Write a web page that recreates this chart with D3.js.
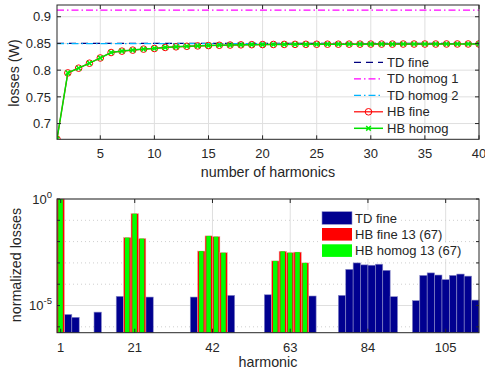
<!DOCTYPE html>
<html>
<head>
<meta charset="utf-8">
<script src="https://cdn.jsdelivr.net/npm/d3@7"></script>
<style>
  body { margin: 0; background: #fff; }
  text { font-family: "Liberation Sans", Arial, Helvetica, sans-serif; fill: #262626; }
</style>
</head>
<body>
<div id="chart"></div>
<script>
// ---- top panel data ----
var nHarmonics = [1,2,3,4,5,6,7,8,9,10,11,12,13,14,15,16,17,18,19,20,
                  21,22,23,24,25,26,27,28,29,30,31,32,33,34,35,36,37,38,39,40];
var hbFine = [0.6706,0.7948,0.8037,0.8130,0.8228,0.8330,0.8356,0.8375,0.8394,0.8406,
              0.8425,0.8437,0.8447,0.8454,0.8460,0.8466,0.8470,0.8474,0.8477,0.8479,
              0.8481,0.8482,0.8483,0.8484,0.8485,0.8486,0.8486,0.8487,0.8487,0.8488,
              0.8488,0.8488,0.8489,0.8489,0.8489,0.8489,0.8490,0.8490,0.8490,0.8490];
var hbHomog = [0.6706,0.7950,0.8038,0.8131,0.8229,0.8331,0.8357,0.8376,0.8394,0.8407,
               0.8425,0.8437,0.8447,0.8454,0.8460,0.8466,0.8470,0.8474,0.8477,0.8479,
               0.8481,0.8482,0.8483,0.8484,0.8485,0.8486,0.8486,0.8487,0.8487,0.8488,
               0.8488,0.8488,0.8489,0.8489,0.8489,0.8489,0.8490,0.8490,0.8490,0.8490];
var tdFine = 0.8503;
var tdHomog1 = 0.9125;
var tdHomog2 = 0.8496;
var topXTicks = [5,10,15,20,25,30,35,40];
var topYTicks = [0.7,0.75,0.8,0.85,0.9];

// ---- bottom panel data ----
var tdHarm = [3,5,11,17,25,37,47,57,69,77,79,81,83,85,87,89,91,97,99,101,103,105,107,109,111,113];
var tdLoss = [3.8e-6,2.8e-6,4.9e-6,2.7e-5,2.5e-5,2.5e-5,3.0e-5,3.2e-5,2.8e-5,3.0e-5,
              5.0e-4,1.0e-3,8.1e-4,7.8e-4,8.7e-4,4.5e-4,2.6e-5,1.7e-5,2.6e-4,3.4e-4,
              2.7e-4,1.65e-4,2.6e-4,3.0e-4,2.4e-4,1.8e-5];
var hbHarm = [1,19,21,23,39,41,43,45,59,61,63,65,67];
var hbFineLoss = [1,0.0154,0.204,0.0138,0.0036,0.0185,0.017,0.0030,0.00124,0.0035,0.0030,0.0032,0.0010];
var hbHomogLoss = [1,0.0154,0.204,0.0138,0.0036,0.0185,0.017,0.0030,0.00124,0.0035,0.0030,0.0032,0.0010];
var botXTicks = [1,21,42,63,84,105];
var botYDecades = [-6,-5,-4,-3,-2,-1,0];

var W = 485, H = 375;
var axisColor = "#262626", gridColor = "#dfdfdf";
var svg = d3.select("#chart").append("svg").attr("width", W).attr("height", H);

// ================= top panel =================
var L = 57, R = 479, T1 = 5, B1 = 139.3;
var x1 = d3.scaleLinear().domain([1,40]).range([L,R]);
var y1 = d3.scaleLinear().domain([0.6705,0.922]).range([B1,T1]);
var g1 = svg.append("g");

// grid
g1.selectAll(".gx").data(topXTicks).enter().append("line")
  .attr("x1", function(d){return x1(d);}).attr("x2", function(d){return x1(d);})
  .attr("y1", T1).attr("y2", B1).style("stroke", gridColor);
g1.selectAll(".gy").data(topYTicks).enter().append("line")
  .attr("x1", L).attr("x2", R)
  .attr("y1", function(d){return y1(d);}).attr("y2", function(d){return y1(d);})
  .style("stroke", gridColor);

var clip1 = svg.append("clipPath").attr("id","c1").append("rect")
  .attr("x", L).attr("y", T1).attr("width", R-L).attr("height", B1-T1);

var lines = g1.append("g").attr("clip-path","url(#c1)");
function hline(v, color, dash, w) {
  lines.append("line").attr("x1", L).attr("x2", R).attr("y1", y1(v)).attr("y2", y1(v))
    .style("stroke", color).style("stroke-width", w).style("stroke-dasharray", dash);
}
hline(tdFine, "#000080", "7,5", 1.2);
hline(tdHomog1, "#ff00ff", "7,3,1.5,3", 1.2);
hline(tdHomog2, "#00b4ff", "7,3,1.5,3", 1.2);

var line = d3.line().x(function(d,i){return x1(nHarmonics[i]);}).y(function(d){return y1(d);});
lines.append("path").datum(hbFine).attr("d", line)
  .style("fill","none").style("stroke","#ff0000").style("stroke-width",1.2);
lines.selectAll(".hbf").data(hbFine).enter().append("circle")
  .attr("cx", function(d,i){return x1(nHarmonics[i]);}).attr("cy", function(d){return y1(d);})
  .attr("r", 3.3).style("fill","none").style("stroke","#ff0000").style("stroke-width",1);
lines.append("path").datum(hbHomog).attr("d", line)
  .style("fill","none").style("stroke","#00e000").style("stroke-width",1.5);
function xMark(sel, cx, cy, s, color) {
  sel.append("path").attr("d", "M"+(cx-s)+","+(cy-s)+"L"+(cx+s)+","+(cy+s)+"M"+(cx-s)+","+(cy+s)+"L"+(cx+s)+","+(cy-s))
    .style("stroke", color).style("stroke-width", 1.5);
}
hbHomog.forEach(function(d,i){ xMark(lines, x1(nHarmonics[i]), y1(d), 2.3, "#00ee00"); });

// frame + ticks
g1.append("rect").attr("x", L).attr("y", T1).attr("width", R-L).attr("height", B1-T1)
  .style("fill","none").style("stroke", axisColor).style("stroke-width", 1);
topXTicks.forEach(function(t){
  g1.append("line").attr("x1", x1(t)).attr("x2", x1(t)).attr("y1", B1).attr("y2", B1-4).style("stroke", axisColor);
  g1.append("line").attr("x1", x1(t)).attr("x2", x1(t)).attr("y1", T1).attr("y2", T1+4).style("stroke", axisColor);
  g1.append("text").attr("x", x1(t)).attr("y", 157.5).attr("text-anchor","middle")
    .style("font-size","13px").text(t);
});
topYTicks.forEach(function(t){
  g1.append("line").attr("x1", L).attr("x2", L+4).attr("y1", y1(t)).attr("y2", y1(t)).style("stroke", axisColor);
  g1.append("line").attr("x1", R).attr("x2", R-4).attr("y1", y1(t)).attr("y2", y1(t)).style("stroke", axisColor);
  g1.append("text").attr("x", L-6).attr("y", y1(t)).attr("dy","0.36em").attr("text-anchor","end")
    .style("font-size","13px").text(d3.format("")(t));
});
g1.append("text").attr("x", 268).attr("y", 176.5).attr("text-anchor","middle")
  .style("font-size","14.3px").text("number of harmonics");
g1.append("text").attr("transform","translate(19,73) rotate(-90)").attr("text-anchor","middle")
  .style("font-size","14.3px").text("losses (W)");

// legend top
var legTop = [
  {name:"TD fine", color:"#000080", dash:"7,5", w:1.2},
  {name:"TD homog 1", color:"#ff00ff", dash:"7,3,1.5,3", w:1.2},
  {name:"TD homog 2", color:"#00b4ff", dash:"7,3,1.5,3", w:1.2},
  {name:"HB fine", color:"#ff0000", dash:null, w:1.2, mark:"o"},
  {name:"HB homog", color:"#00e000", dash:null, w:1.5, mark:"x"}
];
legTop.forEach(function(d,i){
  var yy = 62.3 + i*16.5;
  g1.append("line").attr("x1", 354).attr("x2", 383).attr("y1", yy).attr("y2", yy)
    .style("stroke", d.color).style("stroke-width", d.w).style("stroke-dasharray", d.dash);
  if (d.mark === "o") g1.append("circle").attr("cx", 368.5).attr("cy", yy).attr("r", 3.3)
    .style("fill","none").style("stroke", d.color);
  if (d.mark === "x") xMark(g1, 368.5, yy, 2.3, "#00ee00");
  g1.append("text").attr("x", 387).attr("y", yy).attr("dy","0.36em")
    .style("font-size","13px").text(d.name);
});

// ================= bottom panel =================
var T2 = 199, B2 = 332.7;
var x2 = d3.scaleLinear().domain([0,114]).range([L,R]);
var y2 = d3.scaleLog().domain([5.3e-7,1]).range([B2,T2]);
var g2 = svg.append("g");

g2.selectAll(".gx").data(botXTicks).enter().append("line")
  .attr("x1", function(d){return x2(d);}).attr("x2", function(d){return x2(d);})
  .attr("y1", T2).attr("y2", B2).style("stroke", gridColor);
botYDecades.forEach(function(e){
  var major = (e === 0 || e === -5);
  g2.append("line").attr("x1", L).attr("x2", R).attr("y1", y2(Math.pow(10,e))).attr("y2", y2(Math.pow(10,e)))
    .style("stroke", major ? gridColor : "#cfcfcf").style("stroke-dasharray", major ? null : "1,3");
});

var bars = g2.append("g");
var bw = x2(2) - x2(0);
bars.selectAll(".td").data(tdLoss).enter().append("rect")
  .attr("x", function(d,i){return x2(tdHarm[i]-1);}).attr("width", bw)
  .attr("y", function(d){return y2(d);}).attr("height", function(d){return B2 - y2(d);})
  .style("fill","#000090").style("stroke","#8c8cc8").style("stroke-width",0.6);
bars.selectAll(".hbf").data(hbFineLoss).enter().append("rect")
  .attr("x", function(d,i){return x2(hbHarm[i]-1);}).attr("width", bw)
  .attr("y", function(d){return y2(d);}).attr("height", function(d){return B2 - y2(d);})
  .style("fill","#ff0000").style("stroke","#e8a0a0").style("stroke-width",0.5);
bars.selectAll(".hbh").data(hbHomogLoss).enter().append("rect")
  .attr("x", function(d,i){return x2(hbHarm[i]-1) + bw*0.17;}).attr("width", bw*0.62)
  .attr("y", function(d){return y2(d);}).attr("height", function(d){return B2 - y2(d);})
  .style("fill","#00ff00");

// frame + ticks
g2.append("rect").attr("x", L).attr("y", T2).attr("width", R-L).attr("height", B2-T2)
  .style("fill","none").style("stroke", axisColor).style("stroke-width", 1);
botXTicks.forEach(function(t){
  g2.append("line").attr("x1", x2(t)).attr("x2", x2(t)).attr("y1", B2).attr("y2", B2-4).style("stroke", axisColor);
  g2.append("line").attr("x1", x2(t)).attr("x2", x2(t)).attr("y1", T2).attr("y2", T2+4).style("stroke", axisColor);
  g2.append("text").attr("x", x2(t)).attr("y", 351.5).attr("text-anchor","middle")
    .style("font-size","13px").text(t);
});
botYDecades.forEach(function(e){
  var yy = y2(Math.pow(10,e));
  g2.append("line").attr("x1", L).attr("x2", L+3).attr("y1", yy).attr("y2", yy).style("stroke", axisColor);
  g2.append("line").attr("x1", R).attr("x2", R-3).attr("y1", yy).attr("y2", yy).style("stroke", axisColor);
  if (e === 0 || e === -5) {
    var tx = g2.append("text").attr("x", L-5).attr("y", yy + 4.5).attr("text-anchor","end")
      .style("font-size","13px");
    tx.append("tspan").text("10");
    tx.append("tspan").attr("dy", -6).style("font-size","9.5px").text(e === 0 ? "0" : "-5");
  }
});
g2.append("text").attr("x", 268).attr("y", 367).attr("text-anchor","middle")
  .style("font-size","14.3px").text("harmonic");
g2.append("text").attr("transform","translate(21,265) rotate(-90)").attr("text-anchor","middle")
  .style("font-size","14.3px").text("normalized losses");

// legend bottom
var legBot = [
  {name:"TD fine", color:"#000090"},
  {name:"HB fine 13 (67)", color:"#ff0000"},
  {name:"HB homog 13 (67)", color:"#00ff00"}
];
legBot.forEach(function(d,i){
  var yy = 218 + i*16.3;
  var t = g2.append("text").attr("x", 355).attr("y", yy).attr("dy","0.36em")
    .style("font-size","13px").text(d.name);
  var tw = t.node().getComputedTextLength();
  g2.insert("rect", "text").attr("x", 321).attr("y", yy-8).attr("width", 355-321+tw+2).attr("height", 16.3)
    .style("fill","#fff");
  g2.append("rect").attr("x", 322).attr("y", yy-6.3).attr("width", 30).attr("height", 12.6)
    .style("fill", d.color).style("stroke", d.color === "#000090" ? "#8c8cc8" : "none").style("stroke-width",0.6);
});
</script>
</body>
</html>
